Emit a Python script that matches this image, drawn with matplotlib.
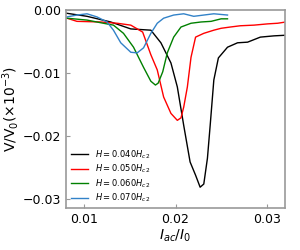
import matplotlib
matplotlib.use("agg")
import matplotlib.pyplot as plt

# data (x = I_ac/I_0, y = V/V_0)
x_040 = [0.0080, 0.0103, 0.0129, 0.0151, 0.0173, 0.0184, 0.0195, 0.0202, 0.0209, 0.0216,
         0.0222, 0.0227, 0.0231, 0.0235, 0.0238, 0.0242, 0.0247, 0.0257, 0.0268, 0.0279,
         0.0293, 0.0308, 0.0321]
y_040 = [-0.0005, -0.0010, -0.0019, -0.0030, -0.0032, -0.0052, -0.0084, -0.0122, -0.0183, -0.0241,
         -0.0262, -0.0281, -0.0276, -0.0235, -0.0183, -0.0111, -0.0076, -0.0059, -0.0052, -0.0051,
         -0.0043, -0.0041, -0.0040]

x_050 = [0.0081, 0.0092, 0.0118, 0.0136, 0.0151, 0.0164, 0.0173, 0.0180, 0.0187, 0.0195,
         0.0202, 0.0206, 0.0209, 0.0213, 0.0217, 0.0222, 0.0231, 0.0242, 0.0250, 0.0260,
         0.0271, 0.0286, 0.0301, 0.0312, 0.0321]
y_050 = [-0.0013, -0.0018, -0.0019, -0.0021, -0.0024, -0.0035, -0.0071, -0.0095, -0.0138, -0.0164,
         -0.0175, -0.0171, -0.0154, -0.0122, -0.0075, -0.0043, -0.0037, -0.0032, -0.0029, -0.0027,
         -0.0025, -0.0024, -0.0022, -0.0021, -0.0019]

x_060 = [0.0081, 0.0103, 0.0121, 0.0132, 0.0143, 0.0154, 0.0165, 0.0173, 0.0178, 0.0181,
         0.0186, 0.0191, 0.0198, 0.0206, 0.0217, 0.0228, 0.0239, 0.0250, 0.0257]
y_060 = [-0.0013, -0.0016, -0.0021, -0.0024, -0.0037, -0.0059, -0.0091, -0.0113, -0.0119, -0.0116,
         -0.0098, -0.0068, -0.0043, -0.0027, -0.0021, -0.0019, -0.0018, -0.0014, -0.0014]

x_070 = [0.0081, 0.0092, 0.0103, 0.0114, 0.0125, 0.0132, 0.0140, 0.0151, 0.0158, 0.0165,
         0.0173, 0.0180, 0.0187, 0.0198, 0.0209, 0.0220, 0.0231, 0.0242, 0.0257]
y_070 = [-0.0011, -0.0008, -0.0006, -0.0011, -0.0019, -0.0032, -0.0052, -0.0067, -0.0068, -0.0060,
         -0.0037, -0.0021, -0.0013, -0.0008, -0.0006, -0.0010, -0.0008, -0.0006, -0.0008]

labels = ["$H=0.040H_{c2}$", "$H=0.050H_{c2}$", "$H=0.060H_{c2}$", "$H=0.070H_{c2}$"]
colors = ["black", "red", "green", "#3282c8"]

fig = plt.figure(figsize=(3, 2.5), dpi=100)
ax = fig.add_axes([0.22, 0.168, 0.73, 0.792])

for xs, ys, lab, c in zip([x_040, x_050, x_060, x_070], [y_040, y_050, y_060, y_070], labels, colors):
    ax.plot(xs, ys, color=c, lw=1.0, label=lab)

ax.set_xlim(0.008, 0.032)
ax.set_ylim(-0.0314, 0.0)
ax.set_xticks([0.01, 0.02, 0.03])
ax.set_xticklabels(["0.01", "0.02", "0.03"])
ax.set_yticks([0.0, -0.01, -0.02, -0.03])
ax.set_yticklabels(["0.00", "\u22120.01", "\u22120.02", "\u22120.03"])
ax.tick_params(direction="in", labelsize=9, length=3, color="#999999")

for s in ax.spines.values():
    s.set_color("#999999")
    s.set_linewidth(1.2)

ax.set_xlabel("$I_{ac}/I_0$", fontsize=10, labelpad=1)
ax.set_ylabel("V/V$_0$(\u00d710$^{-3}$)", fontsize=10, labelpad=1)

# legend sits low in the lower-left corner
ax.legend(loc="lower left", bbox_to_anchor=(-0.01, -0.02), frameon=False, fontsize=6,
          handlelength=2.0, labelspacing=0.25)

plt.savefig("out.png", dpi=100)
